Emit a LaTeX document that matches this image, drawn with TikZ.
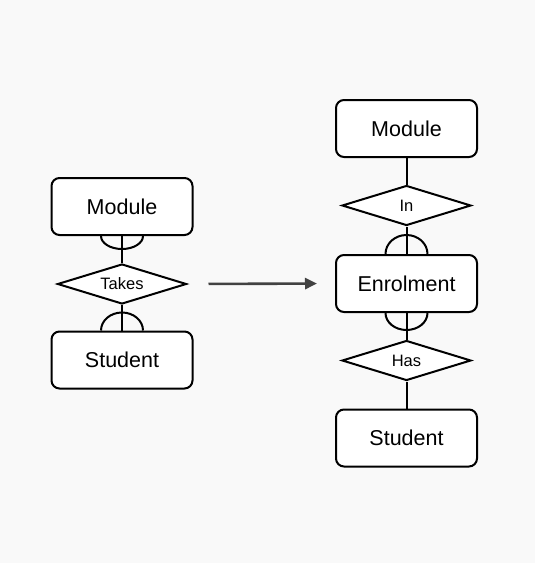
\documentclass[tikz,border=0pt]{standalone}
\usepackage{fontspec}
\setmainfont{Liberation Sans}
\usepackage{tikz}
\usetikzlibrary{shapes.geometric, arrows.meta, positioning}
\definecolor{bgcol}{HTML}{F9F9F9}
\definecolor{arrowcol}{HTML}{424242}

\begin{document}
\begin{tikzpicture}[x=1pt, y=-1pt,
  entity/.style={rectangle, draw, rounded corners=8pt, line width=2pt, fill=white, minimum width=141pt, minimum height=57pt, align=center, font=\fontsize{21.5}{25}\selectfont},
  relation/.style={diamond, draw, line width=2pt, fill=white, shape aspect=3.2, inner sep=0pt, minimum width=129pt, minimum height=40pt, font=\fontsize{16.5}{19}\selectfont},
  link/.style={line width=2pt},
  flow/.style={-{Triangle[length=12pt, width=11pt]}, line width=2.6pt, arrowcol}
]

\fill[bgcol] (0, 0) rectangle (535, 563); % background

\node[entity] (lmod) at (122, 206.5) {Module};
\node[relation] (ltakes) at (122, 284) {Takes};
\node[entity] (lstu) at (122, 360) {Student};

\node[entity] (rmod) at (406.5, 128.5) {Module};
\node[relation] (rin) at (406.5, 205.5) {In};
\node[entity] (enrol) at (406.5, 283.5) {Enrolment};
\node[relation] (rhas) at (406.5, 360.5) {Has};
\node[entity] (rstu) at (406.5, 438) {Student};

\draw[link] (lmod) -- (ltakes);
\draw[link] (ltakes) -- (lstu);
\draw[link] (rmod) -- (rin);
\draw[link] (rin) -- (enrol);
\draw[link] (enrol) -- (rhas);
\draw[link] (rhas) -- (rstu);

% the half rings
\draw[link] ([xshift=-21pt]lmod.south) arc[start angle=180, end angle=360, x radius=21pt, y radius=13pt];
\draw[link] ([xshift=-21pt]lstu.north) arc[start angle=180, end angle=0, x radius=21pt, y radius=18pt];
\draw[link] ([xshift=-21pt]enrol.north) arc[start angle=180, end angle=0, x radius=21pt, y radius=19pt];
\draw[link] ([xshift=-21pt]enrol.south) arc[start angle=180, end angle=360, x radius=21pt, y radius=17pt];

\draw[flow, shorten <=21pt, shorten >=18pt] (ltakes.east) -- (enrol.west);

\end{tikzpicture}
\end{document}
